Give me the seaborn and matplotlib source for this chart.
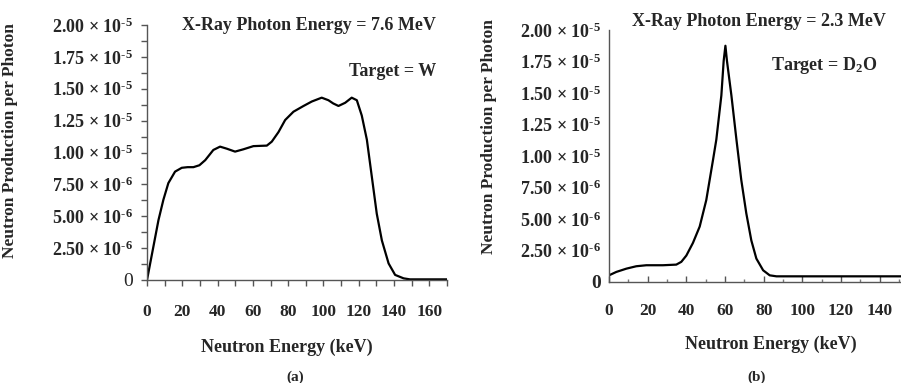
import numpy as np
import pandas as pd
import seaborn as sns
import matplotlib.pyplot as plt
from matplotlib.ticker import MultipleLocator

# Panel (a): W target, 7.6 MeV photons
energy_a = [0, 3.6, 6.5, 9.3, 12.1, 15.9, 19.7, 23, 26.3, 29.7, 33, 37.6, 41.4,
            45.2, 49.9, 54.6, 60.3, 64, 67.9, 70.7, 74.5, 78.3, 83, 88.7, 93.4,
            99, 102.8, 105.5, 108.5, 112.3, 116, 118.9, 121.7, 124.6, 127.4,
            130.2, 133.1, 136.9, 140.6, 145.4, 149, 160, 170]
yield_a = [0, 0.26, 0.47, 0.63, 0.76, 0.85, 0.88, 0.885, 0.885, 0.90, 0.94, 1.02,
           1.046, 1.03, 1.007, 1.025, 1.05, 1.052, 1.054, 1.085, 1.16, 1.255,
           1.32, 1.365, 1.40, 1.43, 1.41, 1.385, 1.365, 1.39, 1.43, 1.41, 1.29,
           1.10, 0.81, 0.52, 0.31, 0.13, 0.04, 0.013, 0.005, 0.005, 0.005]

# Panel (b): D2O target, 2.3 MeV photons
energy_b = [0, 3.8, 9, 14.1, 19.3, 27.9, 34.8, 37.4, 40, 43.4, 46.9, 50.3, 53.8,
            55.5, 58.1, 59.3, 60.2, 61, 63.3, 65.9, 68.4, 71, 73.6, 76.2, 79.7,
            83.1, 86.6, 100, 120, 151]
yield_b = [0.053, 0.08, 0.106, 0.125, 0.133, 0.133, 0.138, 0.16, 0.21, 0.31,
           0.44, 0.65, 0.97, 1.13, 1.48, 1.755, 1.875, 1.755, 1.48, 1.13, 0.81,
           0.545, 0.33, 0.186, 0.093, 0.053, 0.045, 0.045, 0.045, 0.045]

ytick_vals = [0, 0.25, 0.5, 0.75, 1.0, 1.25, 1.5, 1.75, 2.0]
ytick_labels = ['0', '2.50 × 10$^{\\text{-}6}$', '5.00 × 10$^{\\text{-}6}$',
                '7.50 × 10$^{\\text{-}6}$', '1.00 × 10$^{\\text{-}5}$',
                '1.25 × 10$^{\\text{-}5}$', '1.50 × 10$^{\\text{-}5}$',
                '1.75 × 10$^{\\text{-}5}$', '2.00 × 10$^{\\text{-}5}$']

sns.set_style("white")
plt.rcParams['font.family'] = ['Liberation Serif', 'DejaVu Serif']
plt.rcParams['font.weight'] = 'bold'
plt.rcParams['mathtext.fontset'] = 'custom'
plt.rcParams['mathtext.rm'] = 'Liberation Serif:bold'
plt.rcParams['mathtext.it'] = 'Liberation Serif:bold:italic'
plt.rcParams['mathtext.bf'] = 'Liberation Serif:bold'

df_a = pd.DataFrame({"E": energy_a, "N": np.array(yield_a) * 1e-5})
df_b = pd.DataFrame({"E": energy_b, "N": np.array(yield_b) * 1e-5})

fig = plt.figure(figsize=(9.01, 3.83), dpi=100)
W, H = 901, 383
ax1 = fig.add_axes([147 / W, 1 - 280 / H, 300 / W, 255 / H])
ax2 = fig.add_axes([609 / W, 1 - 282 / H, 292 / W, 252 / H])

sns.lineplot(data=df_a, x="E", y="N", ax=ax1, color="black", lw=1.6)
sns.lineplot(data=df_b, x="E", y="N", ax=ax2, color="black", lw=1.6)

ax1.set_xlim(0, 170)
ax2.set_xlim(0, 151)
for ax in (ax1, ax2):
    ax.set_ylim(0, 2.0e-5)
    for s in ("top", "right"):
        ax.spines[s].set_visible(False)
    for s in ("left", "bottom"):
        ax.spines[s].set_color("#555555")
        ax.spines[s].set_linewidth(1.0)
    ax.set_yticks([v * 1e-5 for v in ytick_vals])
    ax.set_yticklabels(ytick_labels, fontsize=13, fontweight='bold')
    ax.set_xticks(range(0, 161, 20) if ax is ax1 else range(0, 141, 20))
    ax.tick_params(axis='x', labelsize=12.5)
    for lab in ax.get_xticklabels():
        lab.set_fontweight('bold')
    ax.set_xlabel("Neutron Energy (keV)", fontsize=13, fontweight='bold')
    ax.set_ylabel("Neutron Production per Photon", fontsize=12.5,
                  fontweight='bold')

# left panel ticks
ax1.xaxis.set_minor_locator(MultipleLocator(10))
ax1.yaxis.set_minor_locator(MultipleLocator(0.125e-5))
ax1.tick_params(axis='x', which='both', direction='out', length=4, width=1,
                color='#555555', pad=13, bottom=True)
ax1.tick_params(axis='y', which='both', direction='out', length=4, width=1,
                color='#555555', pad=6, left=True)
ax1.get_yticklabels()[0].set_fontweight('normal')
ax1.get_yticklabels()[0].set_fontsize(14)

# right panel ticks
ax2.xaxis.set_minor_locator(MultipleLocator(10))
ax2.tick_params(axis='x', which='major', direction='in', length=4, width=1,
                color='#555555', pad=15, bottom=True)
ax2.tick_params(axis='x', which='minor', direction='in', length=2, width=1,
                color='#777777', bottom=True)
ax2.tick_params(axis='y', which='both', length=0, pad=6)
ax2.get_yticklabels()[0].set_fontsize(14)

ax1.xaxis.set_label_coords((287 - 147) / 300, -(339 - 280) / 255)
ax2.xaxis.set_label_coords((771 - 609) / 292, -(336 - 282) / 252)
ax1.yaxis.set_label_coords((18 - 147) / 300, (280 - 141) / 255)
ax2.yaxis.set_label_coords((497 - 609) / 292, (282 - 137) / 252)

fig.text(436 / W, 1 - 26 / H, "X-Ray Photon Energy = 7.6 MeV", ha='right',
         va='center', fontsize=13, fontweight='bold')
fig.text(436 / W, 1 - 71 / H, "Target = W", ha='right', va='center',
         fontsize=13, fontweight='bold')
fig.text(886 / W, 1 - 21 / H, "X-Ray Photon Energy = 2.3 MeV", ha='right',
         va='center', fontsize=13, fontweight='bold')
fig.text(877 / W, 1 - 66 / H, "Target = D$_2$O", ha='right', va='center',
         fontsize=13, fontweight='bold')
fig.text(295 / W, 1 - 377 / H, "(a)", ha='center', va='center',
         fontsize=11, fontweight='bold')
fig.text(757 / W, 1 - 377 / H, "(b)", ha='center', va='center',
         fontsize=11, fontweight='bold')

plt.savefig("out.png", dpi=100)
plt.close()
